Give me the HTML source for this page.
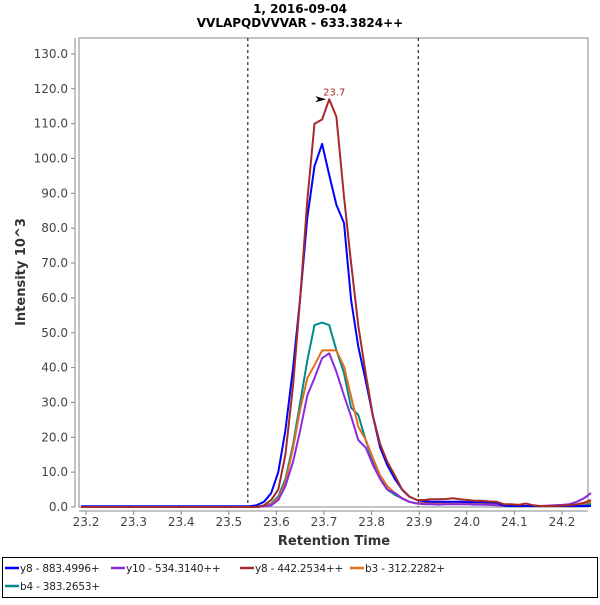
<!DOCTYPE html>
<html><head><meta charset="utf-8"><style>
body{margin:0;background:#fff;}
svg text{font-family:"DejaVu Sans","Liberation Sans",sans-serif;}
</style></head><body>
<svg id="chart" width="600" height="600">
<rect x="0" y="0" width="600" height="600" fill="#fff"/>
<text x="300" y="13" text-anchor="middle" font-size="12" font-weight="bold">1, 2016-09-04</text>
<text x="300" y="27" text-anchor="middle" font-size="12" font-weight="bold">VVLAPQDVVVAR - 633.3824++</text>
<rect x="79" y="38" width="509" height="469" fill="#fff" stroke="#888"/>
<line x1="75" y1="38" x2="75" y2="507" stroke="#888"/>
<line x1="79" y1="511" x2="588" y2="511" stroke="#888"/>
<g id="yticks"></g><g id="xticks"></g>
<text transform="translate(25,272) rotate(-90)" text-anchor="middle" font-size="13" font-weight="bold" fill="#333">Intensity 10^3</text>
<text x="334" y="545" text-anchor="middle" font-size="13" font-weight="bold" fill="#333">Retention Time</text>
<g id="marks"></g>
<rect x="2.5" y="557.5" width="595" height="40" fill="none" stroke="#000"/>
<g id="legend"></g>
</svg>
<script>
const times=[23.19,23.40,23.543,23.558,23.574,23.589,23.604,23.619,23.635,23.650,23.665,23.680,23.696,23.711,23.726,23.742,23.757,23.772,23.788,23.803,23.818,23.833,23.849,23.864,23.879,23.895,23.910,23.925,23.940,23.956,23.971,23.986,24.002,24.017,24.032,24.047,24.063,24.078,24.093,24.109,24.124,24.139,24.154,24.170,24.185,24.200,24.215,24.231,24.246,24.261];
const seriesNames=["y8 - 883.4996+","y10 - 534.3140++","y8 - 442.2534++","b3 - 312.2282+","b4 - 383.2653+"];
const y8a=[0.2,0.2,0.2,0.5,1.5,4,10,22,40,60,83,97.8,104.2,95.3,86.7,81.5,59.4,46,36,26,17,12,8,5,3,2,1.6,1.5,1.5,1.5,1.5,1.5,1.4,1.4,1.4,1.3,1.2,0.4,0.3,0.3,0.3,0.3,0.3,0.3,0.3,0.3,0.3,0.3,0.3,0.3];
const y10=[0,0,0,0,0.2,0.5,2,6,13,22,32,37,42.7,44.1,38.8,32,26,19.2,17,12,8,5,4,2.5,1.5,1,0.8,0.8,0.7,0.8,0.8,0.8,0.8,0.7,0.7,0.6,0.5,0.4,0.3,0.3,0.3,0.3,0.3,0.4,0.5,0.6,0.8,1.5,2.5,4];
const y8b=[0,0,0,0,0.5,2,5,15,35,60,88,110,111.2,117,112,89,70,52,38,26,18,13,9,5,3,2,2,2.2,2.2,2.3,2.5,2.2,2,1.8,1.8,1.6,1.5,0.8,0.8,0.6,1,0.5,0.3,0.3,0.3,0.4,0.5,0.8,1.2,2];
const b3=[0,0,0,0,0.2,0.8,2.5,7,17,28,37,40.7,44.9,45,44.9,40.3,31.7,23,19.2,14,9,6,4,2.5,1.5,1,1.2,1.2,1.2,1.2,1.2,1.2,1.2,1.1,1.1,1,0.9,0.5,0.4,0.3,0.3,0.3,0.3,0.3,0.3,0.3,0.4,0.6,1,1.5];
const b4=[0,0,0,0,0.2,1,3,8,18,30,42,52.2,52.9,52.2,45,38.4,28.5,26.4,19,13,8,5,3.5,2.5,1.5,1,1,1,1,1,1,1,1,0.9,0.9,0.8,0.7,0.4,0.3,0.3,0.3,0.3,0.3,0.3,0.3,0.3,0.3,0.4,0.6,0.9];
const colors=["#0000ff","#8a2be2","#a52a2a","#e07020","#008b8b"];
const yTicks=[0,10,20,30,40,50,60,70,80,90,100,110,120,130];
const xTicks=[23.2,23.3,23.4,23.5,23.6,23.7,23.8,23.9,24.0,24.1,24.2];
const boundaries=[23.54,23.898];
const peakTime=23.711, peakValue=117.0, peakLabel="23.7";
const NS="http://www.w3.org/2000/svg";
function sx(t){return 86+(t-23.2)*476;}
function sy(v){return 507-v*3.485;}
function mk(tag,attrs,parent){const e=document.createElementNS(NS,tag);for(const k in attrs)e.setAttribute(k,attrs[k]);parent.appendChild(e);return e;}
const yt=document.getElementById('yticks'),xt=document.getElementById('xticks'),mg=document.getElementById('marks'),lg=document.getElementById('legend');
yTicks.forEach(v=>{
  const l=mk('line',{x1:71,x2:75,y1:sy(v),y2:sy(v),stroke:'#888'},yt);
  
  
  const t=mk('text',{x:68,y:sy(v)+4,'text-anchor':'end','font-size':12,fill:'#444'},yt);
  
  
  t.textContent=v.toFixed(1);
});
xTicks.forEach(v=>{
  const l=mk('line',{x1:sx(v),x2:sx(v),y1:511,y2:515,stroke:'#888'},xt);
  
  
  const t=mk('text',{x:sx(v),y:526,'text-anchor':'middle','font-size':12,fill:'#444'},xt);
  
  
  t.textContent=v.toFixed(1);
});
boundaries.forEach(b=>{
  const l=mk('line',{x1:sx(b),x2:sx(b),y1:38,y2:507,stroke:'#000','stroke-dasharray':'3,3','stroke-width':1},mg);
  
  
});
const allSeries=[y8a,y10,y8b,b3,b4];
[4,3,1,0,2].forEach(i=>{
  const pts=times.map((t,j)=>sx(t).toFixed(1)+','+sy(allSeries[i][j]).toFixed(1)).join(' ');
  const p=mk('polyline',{points:pts,fill:'none',stroke:colors[i],'stroke-width':2,'stroke-linejoin':'round'},mg);
  
  
});
const px=sx(peakTime),py=sy(peakValue);
const arr=mk('polygon',{points:(px-14)+','+(py-3)+' '+(px-3)+','+py+' '+(px-14)+','+(py+3)+' '+(px-11)+','+py,fill:'#000'},mg);


const pl=mk('text',{x:px+5,y:py-4,'text-anchor':'middle','font-size':10,fill:'#a52a2a'},mg);


pl.textContent=peakLabel;
const lpos=[[5,572],[111,572],[240,572],[350,572],[5,590]];
seriesNames.forEach((n,i)=>{
  const [x,y]=lpos[i];
  const l=mk('line',{x1:x,x2:x+14,y1:y-4,y2:y-4,stroke:colors[i],'stroke-width':2.5},lg);
  
  
  const t=mk('text',{x:x+15,y:y,'font-size':10.5,'letter-spacing':-0.2,fill:'#222'},lg);
  
  
  t.textContent=n;
});
</script>
</body></html>
